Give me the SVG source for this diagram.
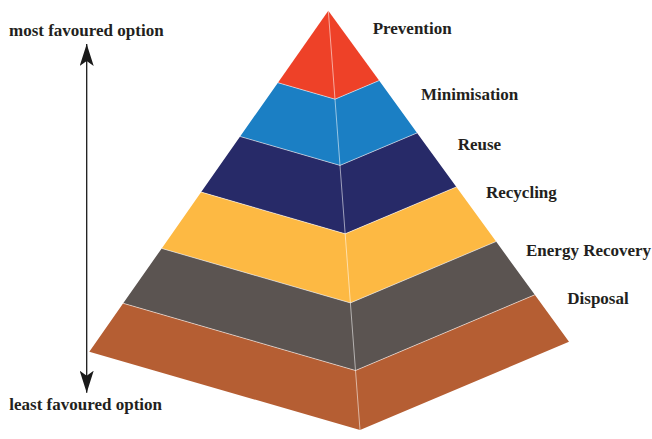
<svg xmlns="http://www.w3.org/2000/svg" width="652" height="439" viewBox="0 0 652 439">
<style>
.lbl{font-family:"Liberation Serif","Times New Roman",serif;font-weight:bold;font-size:17px;fill:#231f20}
.sep{stroke:#ffffff;stroke-opacity:0.55;stroke-width:1;fill:none}
.axis{stroke:#1a1a1a;stroke-width:1.3;fill:none}
</style>
<defs>
<marker id="ah" markerUnits="userSpaceOnUse" markerWidth="22" markerHeight="14" viewBox="0 0 22 14" refX="22" refY="7" orient="auto-start-reverse">
<path d="M0,0 L22,7 L0,14 L5,7 Z" fill="#1a1a1a"/>
</marker>
</defs>
<rect width="652" height="439" fill="#ffffff"/>
<g id="band-prevention">
<polygon points="328.3,10.7 379.1,80.6 335.0,99.2 277.9,82.7" fill="#ee4128"/>
<text class="lbl" x="372.7" y="34">Prevention</text>
</g>
<g id="band-minimisation">
<polygon points="277.9,82.7 335.0,99.2 379.1,80.6 417.1,132.9 340.0,165.4 240.1,136.5" fill="#1b7fc4"/>
<text class="lbl" x="421" y="100">Minimisation</text>
</g>
<g id="band-reuse">
<polygon points="240.1,136.5 340.0,165.4 417.1,132.9 456.4,186.9 345.2,233.8 201.2,192.1" fill="#272a68"/>
<text class="lbl" x="457.7" y="150">Reuse</text>
</g>
<g id="band-recycling">
<polygon points="201.2,192.1 345.2,233.8 456.4,186.9 496.1,241.5 350.4,302.9 161.7,248.4" fill="#fdb943"/>
<text class="lbl" x="486" y="198">Recycling</text>
</g>
<g id="band-energy-recovery">
<polygon points="161.7,248.4 350.4,302.9 496.1,241.5 534.8,294.8 355.5,370.5 123.2,303.3" fill="#5b5451"/>
<text class="lbl" x="526" y="256">Energy Recovery</text>
</g>
<g id="band-disposal">
<polygon points="123.2,303.3 355.5,370.5 534.8,294.8 569,341.8 360,430 89.3,351.7" fill="#b55e33"/>
<text class="lbl" x="567.3" y="304">Disposal</text>
</g>
<g id="edges">
<polyline class="sep" points="277.9,82.7 335.0,99.2 379.1,80.6"/>
<polyline class="sep" points="240.1,136.5 340.0,165.4 417.1,132.9"/>
<polyline class="sep" points="201.2,192.1 345.2,233.8 456.4,186.9"/>
<polyline class="sep" points="161.7,248.4 350.4,302.9 496.1,241.5"/>
<polyline class="sep" points="123.2,303.3 355.5,370.5 534.8,294.8"/>
<line class="sep" x1="328.3" y1="10.7" x2="360" y2="430"/>
</g>
<g id="connectors">
<line class="axis" x1="86.7" y1="44" x2="86.7" y2="392.7" marker-start="url(#ah)" marker-end="url(#ah)"/>
</g>
<g id="axis-labels">
<text class="lbl" x="9" y="36">most favoured option</text>
<text class="lbl" x="9.3" y="410">least favoured option</text>
</g>
</svg>
